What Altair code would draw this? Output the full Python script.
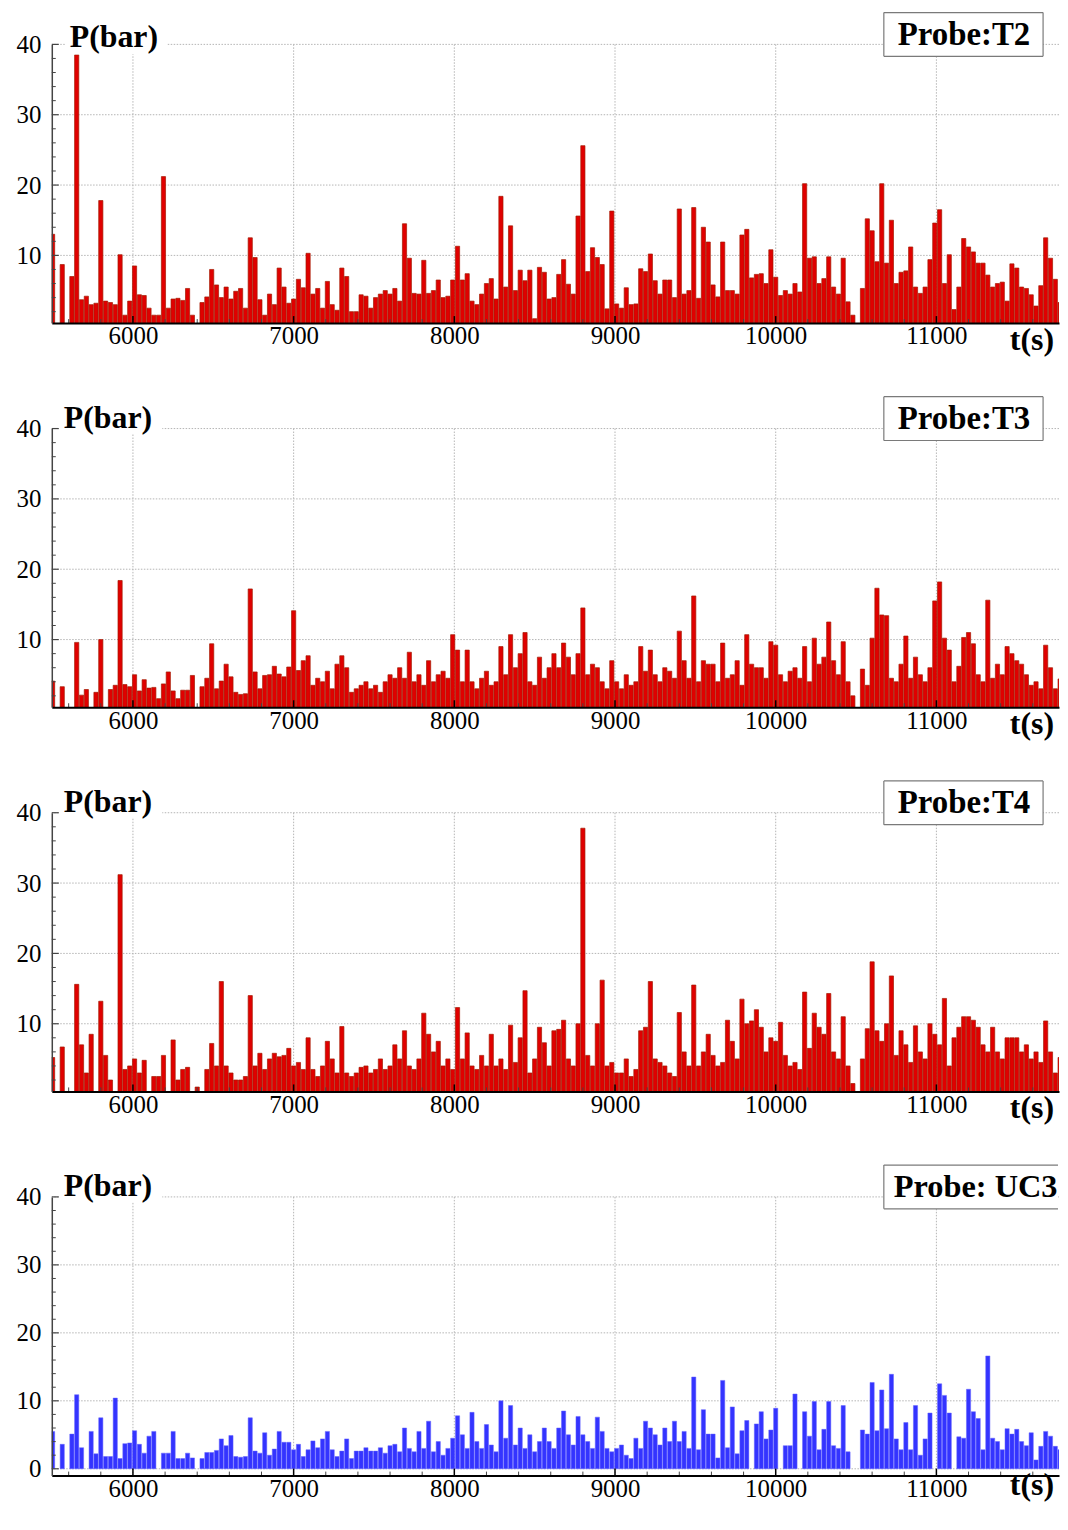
import altair as alt
import pandas as pd

# ---------------- data ----------------
T_START = 5500          # first sample time (s)
T_STEP = 30             # sampling step of the spike series (s)

T2 = [
    13, 0, 8.7, 0, 7.0, 38.5, 3.7, 4.2, 3.0, 3.2,
    17.8, 3.5, 3.3, 3.0, 10.1, 1.5, 3.5, 8.5, 4.4, 4.3,
    2.5, 1.5, 1.5, 21.2, 2.5, 3.8, 3.9, 3.6, 5.3, 1.5,
    0, 3.3, 4.1, 8.0, 5.8, 4.0, 5.5, 3.8, 4.9, 5.3,
    2.5, 12.5, 9.7, 3.7, 1.5, 4.5, 3.0, 8.2, 5.5, 3.2,
    3.8, 6.6, 5.4, 10.3, 4.5, 5.3, 2.5, 6.3, 3.0, 2.2,
    8.2, 7.0, 2.0, 2.0, 4.4, 4.2, 2.5, 4.0, 4.5, 5.0,
    4.5, 5.3, 3.5, 14.5, 9.6, 4.6, 4.5, 9.3, 4.6, 5.0,
    6.5, 4.0, 4.2, 6.5, 11.3, 6.5, 7.4, 3.5, 3.0, 4.5,
    6.0, 6.7, 3.8, 18.4, 5.5, 14.2, 5.0, 7.9, 6.4, 7.9,
    1.0, 8.3, 7.6, 3.8, 4.0, 7.3, 9.4, 5.9, 4.5, 15.6,
    25.6, 7.7, 11.1, 9.7, 8.7, 2.4, 16.3, 3.1, 2.5, 5.4,
    3.0, 3.1, 8.1, 7.7, 10.2, 6.4, 4.5, 6.5, 6.5, 4.0,
    16.6, 4.5, 5.0, 16.8, 3.9, 14.0, 11.9, 5.8, 4.1, 11.9,
    5.0, 5.0, 4.5, 12.9, 13.7, 6.8, 7.3, 7.4, 6.0, 10.8,
    6.9, 4.3, 5.0, 4.5, 6.0, 4.8, 20.2, 9.6, 9.8, 6.0,
    6.7, 9.8, 5.5, 4.5, 9.6, 3.4, 1.5, 0, 5.3, 15.2,
    13.5, 9.1, 20.2, 8.9, 15.0, 6.0, 7.6, 7.8, 11.2, 5.5,
    4.6, 5.5, 9.4, 14.6, 16.5, 6.0, 10.1, 2.3, 5.5, 12.4,
    11.2, 10.5, 8.9, 8.9, 7.2, 5.5, 6.0, 6.2, 3.5, 8.8,
    8.2, 5.5, 5.3, 4.4, 2.8, 5.7, 12.5, 9.6, 6.6, 3.3,
]

T3 = [
    4.1, 0, 3.3, 0, 0, 9.6, 2.1, 2.9, 0, 2.5,
    10.0, 0, 2.9, 3.5, 18.4, 3.6, 3.3, 5.0, 2.7, 4.3,
    3.1, 3.2, 1.6, 3.7, 5.4, 2.7, 1.6, 2.8, 2.8, 4.9,
    0, 3.3, 4.5, 9.4, 3.0, 4.1, 6.5, 4.7, 2.5, 2.2,
    2.3, 17.2, 5.4, 3.0, 4.9, 5.0, 6.2, 5.1, 4.7, 6.1,
    14.1, 5.6, 7.0, 7.7, 3.5, 4.5, 4.0, 5.5, 3.0, 6.5,
    7.7, 6.0, 2.5, 3.0, 3.5, 4.0, 3.0, 3.5, 2.5, 4.0,
    5.0, 4.5, 6.0, 4.5, 8.2, 4.0, 5.0, 3.5, 7.0, 4.0,
    5.0, 5.5, 4.5, 10.7, 8.5, 4.0, 8.5, 4.0, 3.0, 4.5,
    5.5, 3.5, 4.0, 9.0, 5.0, 10.7, 6.0, 8.0, 11.0, 4.0,
    3.5, 7.5, 4.5, 6.0, 8.0, 6.0, 9.5, 7.5, 5.0, 8.0,
    14.5, 5.0, 6.5, 6.0, 4.0, 3.0, 7.0, 4.0, 3.0, 5.0,
    3.5, 4.0, 9.0, 5.5, 8.5, 5.0, 4.0, 6.0, 5.5, 4.5,
    11.2, 7.0, 4.5, 16.2, 4.0, 7.0, 6.5, 6.5, 4.0, 9.5,
    4.5, 5.0, 7.0, 3.5, 10.7, 6.5, 6.0, 6.0, 4.5, 9.7,
    9.2, 5.0, 4.0, 5.5, 6.0, 4.5, 9.0, 4.0, 10.2, 6.5,
    7.5, 12.5, 7.0, 5.0, 9.7, 4.0, 2.0, 0, 5.8, 3.5,
    10.2, 17.3, 13.5, 13.4, 4.5, 4.0, 6.5, 10.5, 4.5, 7.5,
    5.0, 4.0, 6.0, 15.5, 18.2, 10.2, 8.5, 4.0, 6.2, 10.3,
    11.0, 9.4, 5.0, 4.0, 15.6, 4.5, 6.5, 5.0, 9.0, 8.0,
    7.0, 6.5, 5.0, 3.5, 4.0, 3.0, 9.2, 6.0, 3.0, 4.4,
]

T4 = [
    5.2, 0, 6.7, 0, 0, 15.6, 7.0, 3.0, 8.5, 0,
    13.2, 5.5, 2.0, 0, 31.2, 3.5, 4.0, 5.0, 3.0, 4.8,
    0, 2.5, 2.5, 5.5, 0, 7.7, 2.0, 3.5, 3.8, 0,
    1.0, 0, 3.5, 7.2, 4.0, 16.0, 4.0, 3.0, 2.0, 2.0,
    2.5, 14.0, 4.0, 5.8, 3.5, 5.0, 5.8, 5.3, 5.5, 6.5,
    4.0, 4.5, 3.5, 8.0, 3.5, 2.5, 4.0, 7.5, 5.0, 3.0,
    9.6, 3.0, 2.5, 3.0, 3.8, 4.0, 3.0, 3.5, 5.0, 3.5,
    4.0, 7.0, 5.0, 9.0, 4.0, 3.5, 5.0, 11.5, 8.5, 6.0,
    7.5, 4.0, 5.0, 3.5, 12.3, 5.0, 8.7, 4.0, 3.5, 5.5,
    4.0, 8.5, 4.0, 5.0, 3.5, 9.8, 4.5, 8.0, 14.7, 3.0,
    5.0, 9.5, 7.3, 4.0, 9.0, 9.2, 10.5, 5.0, 4.0, 10.0,
    37.8, 5.5, 4.0, 10.0, 16.2, 4.0, 4.5, 3.0, 3.0, 5.0,
    2.5, 3.5, 9.0, 9.5, 16.0, 5.0, 4.5, 4.0, 3.0, 2.5,
    11.6, 6.0, 4.0, 15.5, 4.0, 6.0, 8.5, 5.5, 4.0, 4.5,
    10.5, 7.5, 5.0, 13.5, 10.0, 10.4, 12.0, 9.5, 6.0, 8.0,
    7.5, 10.2, 5.5, 4.0, 4.5, 3.5, 14.5, 6.5, 11.5, 9.5,
    8.5, 14.3, 6.0, 5.0, 11.0, 4.0, 1.5, 0, 5.0, 9.3,
    18.8, 9.0, 7.5, 10.0, 16.8, 5.5, 9.0, 7.0, 4.5, 9.7,
    6.0, 5.0, 10.0, 8.5, 7.0, 13.6, 4.0, 8.0, 9.5, 11.0,
    11.0, 10.5, 9.5, 7.0, 6.0, 9.5, 6.0, 5.0, 8.0, 8.0,
    8.0, 6.0, 7.0, 5.0, 6.0, 4.5, 10.4, 6.0, 3.0, 5.2,
]

UC3 = [
    5.5, 0, 3.6, 0, 5.1, 10.9, 3.1, 0, 5.5, 2.2,
    7.5, 1.8, 1.8, 10.4, 1.5, 3.7, 3.8, 5.6, 3.6, 2.3,
    4.8, 5.5, 0, 2.3, 2.3, 5.5, 1.5, 1.5, 2.3, 1.6,
    0, 1.5, 2.4, 2.4, 2.7, 4.4, 3.4, 4.9, 1.8, 1.7,
    1.8, 7.5, 2.6, 2.3, 5.3, 2.0, 2.9, 5.5, 3.9, 3.9,
    2.8, 3.6, 1.8, 2.8, 4.1, 3.1, 4.4, 5.5, 2.8, 1.8,
    2.6, 4.4, 1.5, 2.6, 2.6, 3.1, 2.6, 2.6, 3.1, 2.3,
    3.4, 3.6, 2.5, 6.0, 3.0, 2.5, 5.5, 3.0, 7.0, 2.5,
    4.0, 2.0, 3.0, 4.5, 7.8, 5.0, 3.0, 8.3, 4.0, 3.0,
    6.5, 3.5, 2.5, 10.0, 4.5, 9.3, 3.5, 6.0, 3.0, 5.0,
    2.5, 4.0, 6.0, 4.0, 3.0, 6.0, 8.5, 5.0, 3.5, 7.7,
    5.0, 4.0, 3.0, 7.6, 5.5, 3.0, 2.5, 3.0, 3.5, 2.0,
    1.5, 4.5, 3.0, 7.0, 6.0, 5.0, 3.5, 6.0, 4.0, 7.0,
    4.0, 5.5, 3.0, 13.5, 2.8, 8.7, 5.1, 5.1, 1.6, 13.0,
    3.1, 9.1, 2.2, 5.6, 7.1, 0, 6.6, 8.4, 4.4, 5.7,
    8.9, 0, 3.4, 3.4, 11.0, 0, 8.4, 4.8, 9.9, 2.8,
    5.8, 9.9, 3.4, 3.0, 9.3, 2.5, 0, 0, 5.7, 5.1,
    12.7, 5.6, 11.6, 5.9, 13.9, 4.4, 2.8, 6.8, 2.8, 9.3,
    2.0, 4.4, 8.2, 0, 12.5, 10.8, 8.2, 0, 4.7, 4.5,
    11.7, 8.4, 7.4, 2.8, 16.6, 4.5, 4.0, 2.8, 5.9, 5.1,
    5.8, 4.0, 3.4, 5.3, 1.3, 3.3, 5.5, 4.8, 3.3, 2.8,
]

PROBE_LABELS = ["Probe:T2", "Probe:T3", "Probe:T4", "Probe: UC3"]
SERIES = [T2, T3, T4, UC3]
KINDS = ["red", "red", "red", "blue"]

X_DOMAIN = [5495, 11763]
X_LABELS = [6000, 7000, 8000, 9000, 10000, 11000]
X_MINOR = [v for v in range(5600, 11800, 200) if v % 1000 != 0]
Y_MAJOR_RED = [10, 20, 30, 40]
Y_MAJOR_BLUE = [0, 10, 20, 30, 40]

# ---------------- styling ----------------
W = 1012
H = 280
SPACING = 106
FONT = "Liberation Serif"
GRID_COLOR = "#b4b4b4"
AXIS_GRAY = "#444444"


def one(label):
    return pd.DataFrame({"s": [label]})


def make_panel(k):
    vals = SERIES[k]
    kind = KINDS[k]
    label = PROBE_LABELS[k]
    last = k == len(SERIES) - 1
    first = k == 0

    times = [T_START + T_STEP * i for i in range(len(vals))]
    df = pd.DataFrame({"t": times, "p": vals})
    df = df[df["p"] > 0]

    if kind == "blue":
        ymin = -1.0
        ymajor = Y_MAJOR_BLUE
        fill, stroke, sw = "#3434ff", "#6262ff", 0.5
    else:
        ymin = 0.38
        ymajor = Y_MAJOR_RED
        fill, stroke, sw = "#e00000", "#a31a00", 0.7

    yminor = [v for v in range(0, 41, 2) if v % 10 != 0 and v > ymin]

    xs = alt.Scale(domain=X_DOMAIN, nice=False, zero=False, padding=0)
    ys = alt.Scale(domain=[ymin, 40], nice=False, zero=False, padding=0)

    x_ax = alt.Axis(
        values=X_LABELS, format="d", grid=False, ticks=False,
        labelFont=FONT, labelFontSize=25, labelColor="black",
        labelPadding=1, labelFlush=False, domainColor="black",
        domainWidth=2, title=None, zindex=1,
    )
    y_ax = alt.Axis(
        values=ymajor, format="d", grid=False, ticks=False,
        labelFont=FONT, labelFontSize=25, labelColor="black",
        labelPadding=11, domainColor=AXIS_GRAY, domainWidth=1.5,
        title=None, zindex=1,
    )

    def X(field):
        return alt.X(field, scale=xs, axis=x_ax, title=None)

    def Y(field):
        return alt.Y(field, scale=ys, axis=y_ax, title=None)

    xgrid = alt.Chart(pd.DataFrame({"t": X_LABELS})).mark_rule(
        color=GRID_COLOR, strokeDash=[1.5, 1.5], strokeWidth=1
    ).encode(x=X("t:Q"))

    ygrid = alt.Chart(pd.DataFrame({"p": ymajor})).mark_rule(
        color=GRID_COLOR, strokeDash=[1.5, 1.5], strokeWidth=1
    ).encode(y=Y("p:Q"))

    bars = alt.Chart(df).mark_bar(
        size=4.2, fill=fill, stroke=stroke, strokeWidth=sw, clip=True
    ).encode(x=X("t:Q"), y=Y("p:Q"), y2=alt.datum(0))

    # inward ticks
    ymaj_t = alt.Chart(pd.DataFrame({"p": ymajor})).mark_rule(
        color=AXIS_GRAY, strokeWidth=1.2
    ).encode(y=Y("p:Q"), x=alt.value(0), x2=alt.value(7))
    ymin_t = alt.Chart(pd.DataFrame({"p": yminor})).mark_rule(
        color=AXIS_GRAY, strokeWidth=1
    ).encode(y=Y("p:Q"), x=alt.value(0), x2=alt.value(4))
    xmaj_t = alt.Chart(pd.DataFrame({"t": X_LABELS})).mark_rule(
        color="black", strokeWidth=1.5
    ).encode(x=X("t:Q"), y=alt.value(H - 7), y2=alt.value(H))
    xmin_t = alt.Chart(pd.DataFrame({"t": X_MINOR})).mark_rule(
        color=AXIS_GRAY, strokeWidth=1, clip=True
    ).encode(x=X("t:Q"), y=alt.value(H - 4), y2=alt.value(H))

    # P(bar) label with white background
    if first:
        px, py, bx1, bx2, by1, by2 = 18, 3, 14, 116, -30, 10
    else:
        px, py, bx1, bx2, by1, by2 = 12, -1, 8, 111, -31, 5
    pbg = alt.Chart(one("bg")).mark_rect(fill="white").encode(
        x=alt.value(bx1), x2=alt.value(bx2), y=alt.value(by1), y2=alt.value(by2)
    )
    ptxt = alt.Chart(one("P(bar)")).mark_text(
        font=FONT, fontSize=32, fontWeight="bold", align="left",
        baseline="alphabetic", color="black"
    ).encode(text="s:N", x=alt.value(px), y=alt.value(py))

    # probe legend box
    left, right = 836, (W - 1 if last else 996)
    top, bot = -32, 12
    boxfill = alt.Chart(one("box")).mark_rect(fill="white").encode(
        x=alt.value(left), x2=alt.value(right), y=alt.value(top), y2=alt.value(bot)
    )
    edge = dict(color="#7a7a7a", strokeWidth=1.2)
    b_top = alt.Chart(one("e")).mark_rule(**edge).encode(
        x=alt.value(left), x2=alt.value(right), y=alt.value(top))
    b_bot = alt.Chart(one("e")).mark_rule(**edge).encode(
        x=alt.value(left), x2=alt.value(right), y=alt.value(bot))
    b_left = alt.Chart(one("e")).mark_rule(**edge).encode(
        x=alt.value(left), y=alt.value(top), y2=alt.value(bot))
    box_layers = [boxfill, b_top, b_bot, b_left]
    if not last:
        b_right = alt.Chart(one("e")).mark_rule(**edge).encode(
            x=alt.value(right), y=alt.value(top), y2=alt.value(bot))
        box_layers.append(b_right)
    probe = alt.Chart(one(label)).mark_text(
        font=FONT, fontSize=(33 if not last else 32.5), fontWeight="bold",
        align="left", baseline="alphabetic", color="black"
    ).encode(text="s:N", x=alt.value(850 if not last else 846), y=alt.value(0.5))

    ts_y = H + 20 if last else H + 27
    ts = alt.Chart(one("t(s)")).mark_text(
        font=FONT, fontSize=32, fontWeight="bold", align="right",
        baseline="alphabetic", color="black"
    ).encode(text="s:N", x=alt.value(W - 5), y=alt.value(ts_y))

    layers = [xgrid, ygrid, bars, pbg, ptxt] + box_layers + [
        probe, ymaj_t, ymin_t, xmaj_t, xmin_t, ts
    ]
    return alt.layer(*layers).properties(width=W, height=H)


chart = alt.vconcat(
    *[make_panel(k) for k in range(4)], spacing=SPACING, bounds="flush"
).properties(
    padding={"left": 8, "top": 0, "right": 0, "bottom": 0}
).configure_view(stroke=None)

chart.save("out.html", embed_options={"renderer": "svg", "actions": False})
